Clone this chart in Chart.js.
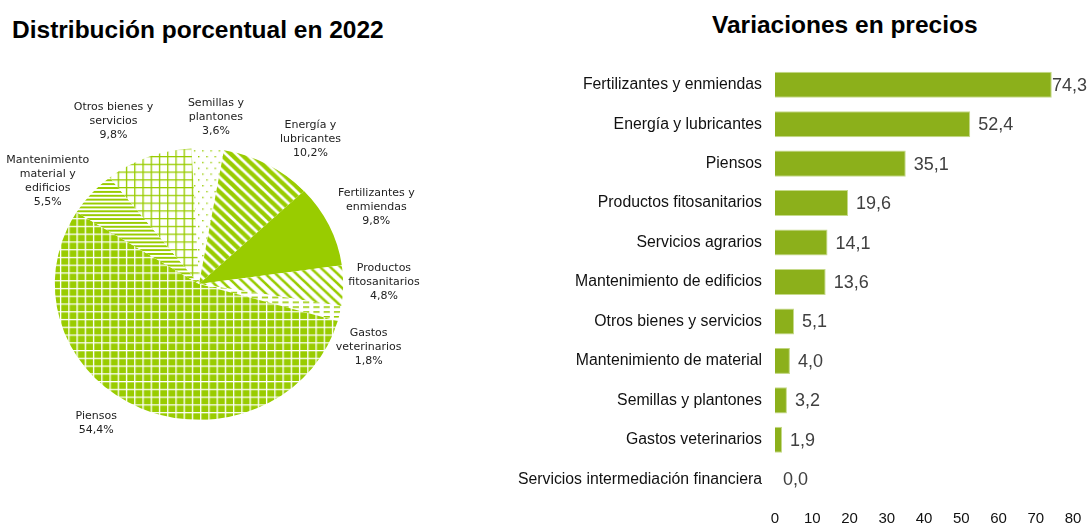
<!DOCTYPE html>
<html>
<head>
<meta charset="utf-8">
<script src="https://cdn.jsdelivr.net/npm/chart.js@4.4.1/dist/chart.umd.min.js"></script>
<style>
body{margin:0;width:1088px;height:523px;position:relative;background:#fff;overflow:hidden;font-family:"Liberation Sans",Arial,sans-serif}
h2{position:absolute;margin:0;font-weight:bold;color:#000;white-space:nowrap;line-height:1}
#t1{left:12px;top:18px;font-size:24.5px}
#t2{left:712px;top:13px;font-size:24.5px}
canvas{position:absolute;top:0}
#pie{left:0}
#bar{left:480px}
</style>
</head>
<body>
<h2 id="t1">Distribución porcentual en 2022</h2>
<h2 id="t2">Variaciones en precios</h2>
<canvas id="pie" width="480" height="523"></canvas>
<canvas id="bar" width="608" height="523"></canvas>
<script>
// pie data (clockwise from top)
const pieNames = [
    ['Semillas y', 'plantones'],
    ['Energía y', 'lubricantes'],
    ['Fertilizantes y', 'enmiendas'],
    ['Productos', 'fitosanitarios'],
    ['Gastos', 'veterinarios'],
    ['Piensos'],
    ['Mantenimiento', 'material y', 'edificios'],
    ['Otros bienes y', 'servicios']
]
const pieValues = [3.6, 10.2, 9.8, 4.8, 1.8, 54.4, 5.5, 9.8]

// bar data
const barLabels = [
    'Fertilizantes y enmiendas',
    'Energía y lubricantes',
    'Piensos',
    'Productos fitosanitarios',
    'Servicios agrarios',
    'Mantenimiento de edificios',
    'Otros bienes y servicios',
    'Mantenimiento de material',
    'Semillas y plantones',
    'Gastos veterinarios',
    'Servicios intermediación financiera'
]
const barValues = [74.3, 52.4, 35.1, 19.6, 14.1, 13.6, 5.1, 4.0, 3.2, 1.9, 0.0]
const xTicks = [0, 10, 20, 30, 40, 50, 60, 70, 80]

const green = '#99cc00'
const barGreen = '#8cb01b'

function fmt(v){
    return v.toFixed(1).replace('.', ',')
}

// fill patterns
let pieCtx = document.getElementById('pie').getContext('2d')
function makePattern(w, h, bg, draw){
    let c = document.createElement('canvas')
    c.width = w; c.height = h
    let g = c.getContext('2d')
    g.fillStyle = bg
    g.fillRect(0, 0, w, h)
    g.fillStyle = green
    g.strokeStyle = green
    draw(g, w, h)
    return pieCtx.createPattern(c, 'repeat')
}
function diag(lw){
    return function(g, w, h){
        g.lineWidth = lw
        for (let k = -w; k <= w; k += w) {
            g.beginPath()
            g.moveTo(-2, k - 2)
            g.lineTo(w + 2, k + w + 2)
            g.stroke()
        }
    }
}

let fills = [
    makePattern(8, 12, '#fff', function(g){ g.fillRect(2, 2, 1.4, 1.4); g.fillRect(6, 8, 1.4, 1.4) }),
    makePattern(10, 10, '#fff', diag(4.4)),
    green,
    makePattern(10, 10, '#fff', diag(2.6)),
    makePattern(10, 5, '#fff', function(g){ g.fillRect(0, 2, 6, 1.6) }),
    makePattern(8, 8, green, function(g){ g.fillStyle = '#fff'; g.fillRect(0, 0, 8, 1.3); g.fillRect(0, 0, 1.3, 8) }),
    makePattern(4, 4, '#fff', function(g){ g.fillRect(0, 0, 4, 2) }),
    makePattern(8, 8, '#fff', function(g){ g.fillRect(0, 0, 8, 1.3); g.fillRect(0, 0, 1.3, 8) })
]

// label nudges (px) so the text sits where the original put it
const labelShift = [[6, 13], [26, 14], [15, 1], [5, -4], [-6, 24], [-30, -25], [-17, 17], [-22, 6]]

// squash the pie slightly + labels around it
const pieLabelPlugin = {
    id: 'pieLabels',
    beforeDatasetsDraw(chart){
        let ctx = chart.ctx
        let a = chart.chartArea
        let cx = (a.left + a.right) / 2, cy = (a.top + a.bottom) / 2
        ctx.save()
        ctx.translate(cx, cy)
        ctx.scale(1.03, 0.97)
        ctx.translate(-cx, -cy)
    },
    afterDatasetsDraw(chart){
        let ctx = chart.ctx
        ctx.restore()
        let meta = chart.getDatasetMeta(0)
        ctx.save()
        ctx.font = '11px "DejaVu Sans", Verdana, sans-serif'
        ctx.fillStyle = '#222'
        ctx.textAlign = 'center'
        ctx.textBaseline = 'middle'
        meta.data.forEach(function(arc, i){
            let p = arc.getProps(['x', 'y', 'startAngle', 'endAngle', 'outerRadius'], true)
            let mid = (p.startAngle + p.endAngle) / 2
            let r = p.outerRadius + 40
            let lines = pieNames[i].concat([fmt(pieValues[i]) + '%'])
            let cx = p.x + Math.cos(mid) * r + labelShift[i][0]
            let cy = p.y + Math.sin(mid) * r + labelShift[i][1]
            let lh = 14
            let top = cy - (lines.length - 1) * lh / 2
            lines.forEach(function(t, j){
                ctx.fillText(t, cx, top + j * lh)
            })
        })
        ctx.restore()
    }
}

new Chart(pieCtx, {
    type: 'pie',
    data: {
        labels: pieNames.map(n => n.join(' ')),
        datasets: [{
            data: pieValues,
            backgroundColor: fills,
            borderWidth: 0
        }]
    },
    options: {
        responsive: false,
        animation: false,
        rotation: -3,
        layout: { padding: { left: 59, right: 141, top: 144, bottom: 99 } },
        plugins: { legend: { display: false }, tooltip: { enabled: false } }
    },
    plugins: [pieLabelPlugin]
})

// value labels after bars
const barValuePlugin = {
    id: 'barValues',
    afterDatasetsDraw(chart){
        let ctx = chart.ctx
        let meta = chart.getDatasetMeta(0)
        ctx.save()
        ctx.font = '18px "Liberation Sans", Arial, sans-serif'
        ctx.fillStyle = '#404040'
        ctx.textAlign = 'left'
        ctx.textBaseline = 'middle'
        meta.data.forEach(function(bar, i){
            let t = fmt(barValues[i])
            let w = ctx.measureText(t).width
            let x = Math.min(bar.x + 8, chart.width - w - 1)
            ctx.fillText(t, x, bar.y + 1)
        })
        ctx.restore()
    }
}

new Chart(document.getElementById('bar'), {
    type: 'bar',
    data: {
        labels: barLabels,
        datasets: [{
            data: barValues,
            backgroundColor: barGreen,
            borderColor: '#c6da8a',
            borderWidth: 1,
            barPercentage: 0.66,
            categoryPercentage: 1
        }]
    },
    options: {
        indexAxis: 'y',
        responsive: false,
        animation: false,
        layout: { padding: { top: 65, right: 15, left: 0, bottom: 0 } },
        plugins: { legend: { display: false }, tooltip: { enabled: false } },
        scales: {
            x: {
                min: 0,
                max: 80,
                afterBuildTicks: s => { s.ticks = xTicks.map(v => ({ value: v })) },
                afterFit: s => { s.height = 24 },
                grid: { display: false, drawTicks: false },
                border: { display: false },
                ticks: { padding: 2, color: '#111', font: { size: 15, lineHeight: 2.33, family: '"Liberation Sans", Arial, sans-serif' } }
            },
            y: {
                afterFit: s => { s.width = 295 },
                grid: { display: false, drawTicks: false },
                border: { display: false },
                ticks: { padding: 13, color: '#111', font: { size: 15.8, family: '"Liberation Sans", Arial, sans-serif' } }
            }
        }
    },
    plugins: [barValuePlugin]
})
</script>
</body>
</html>
